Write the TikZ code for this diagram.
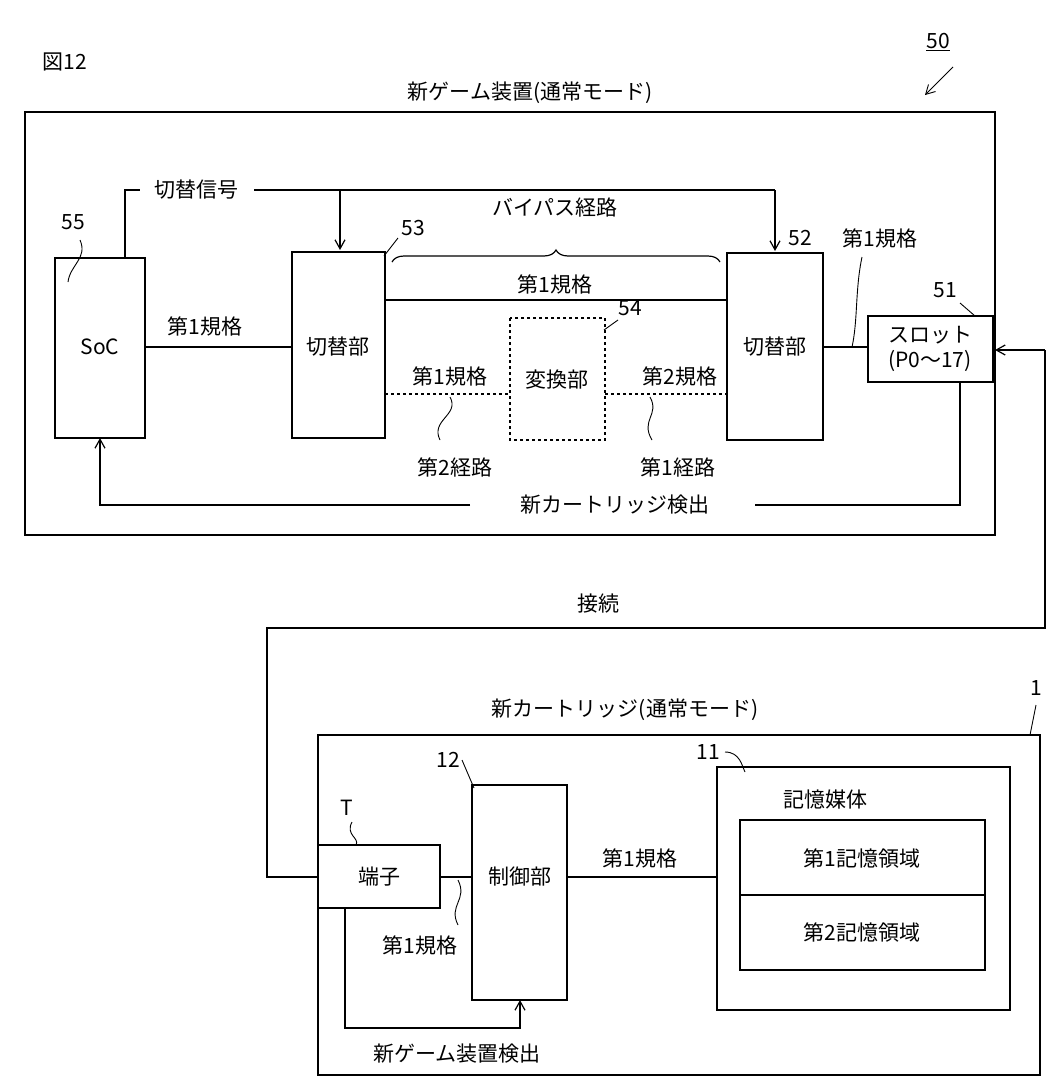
\documentclass[tikz,border=0pt]{standalone}
\usepackage{fontspec}
\setmainfont{Noto Sans CJK JP}
\usetikzlibrary{decorations.pathreplacing,arrows.meta}
\begin{document}
\begin{tikzpicture}[x=1pt,y=-1pt,line width=1.2pt,
  font=\fontsize{21}{25}\selectfont,
  box/.style={draw,inner sep=0},
  lbl/.style={inner sep=1pt},
  arr/.style={-{Straight Barb[length=9pt,width=10pt]}},
  lead/.style={line width=0.9pt}]
\useasboundingbox (0,0) rectangle (1060,1090);
\node[lbl] (fig) at (65,62) {図12};
\node[lbl] (n50) at (938,42) {\underline{50}};
\draw[arr,lead] (953,67) -- (925,95);
\node[lbl] (t1) at (530,93) {新ゲーム装置(通常モード)};
\draw (25,112) rectangle (995,535);
% boxes
\draw (55,258) rectangle (145,438); \node (soc) at (100,347) {SoC};
\coordinate (socT) at (125,258); \coordinate (socB) at (100,438);
\draw (292,252) rectangle (385,438); \node (sw53) at (338,347) {切替部};
\draw (727,253) rectangle (823,440); \node (sw52) at (775,347) {切替部};
\draw (868,316) rectangle (993,382);
\node[align=center,lbl] (slot) at (930,349) {スロット\\(P0〜17)};
\draw[dashed] (510,318) rectangle (605,440); \node (conv) at (557,380) {変換部};
% numbers
\node[lbl] (n55) at (73,222) {55}; \draw[lead] (80,240) .. controls (88,258) and (70,265) .. (68,282);
\node[lbl] (n53) at (413,228) {53}; \draw[lead] (398,238) -- (384,256);
\node[lbl] (n52) at (800,238) {52};
\node[lbl] (n51) at (945,290) {51}; \draw[lead] (960,303) -- (975,316);
\node[lbl] (n54) at (630,308) {54}; \draw[lead] (618,320) -- (604,330);
% lines
\draw (145,347) -- (292,347); \node[lbl] (a1) at (205,326) {第1規格};
\draw (385,300) -- (727,300); \node[lbl] (a2) at (555,284) {第1規格};
\draw[decorate,decoration={brace,amplitude=12pt}] (392,262) -- (720,262);
\node[lbl] (bp) at (555,208) {バイパス経路};
\draw[dashed] (385,394) -- (510,394); \draw[dashed] (605,394) -- (727,394);
\node[lbl] (a3) at (450,376) {第1規格}; \node[lbl] (a4) at (680,376) {第2規格};
\draw[lead] (450,397) .. controls (460,415) and (430,420) .. (440,440);
\node[lbl] (p2) at (455,467) {第2経路};
\draw[lead] (650,397) .. controls (660,415) and (640,420) .. (652,440);
\node[lbl] (p1) at (678,467) {第1経路};
\draw (823,347) -- (868,347);
\node[lbl] (a5) at (880,238) {第1規格};
\draw[lead] (862,257) .. controls (855,290) and (858,320) .. (852,347);
% switching signal
\draw (socT) -- (125,190) -- (140,190);
\node[lbl] (sig) at (196,190) {切替信号};
\draw (254,190) -- (775,190);
\draw[arr] (340,190) -- (340,250);
\draw[arr] (775,190) -- (775,251);
% detection
\draw (960,382) -- (960,505) -- (755,505);
\node[lbl] (det) at (615,505) {新カートリッジ検出};
\draw[arr] (470,505) -- (100,505) -- (socB);
% connection
\draw[arr] (1045,350) -- (995,350);
\draw (1045,350) -- (1045,628) -- (267,628) -- (267,877) -- (318,877);
\node[lbl] (conn) at (598,604) {接続};
% cartridge
\node[lbl] (t2) at (625,710) {新カートリッジ(通常モード)};
\draw (318,735) rectangle (1040,1075);
\node[lbl] (n1) at (1036,688) {1}; \draw[lead] (1036,705) -- (1030,735);
\draw (318,845) rectangle (440,908); \node (term) at (379,877) {端子};
\node[lbl] (nT) at (347,808) {T}; \draw[lead] (352,822) .. controls (345,835) and (360,838) .. (356,845);
\draw (472,785) rectangle (567,1000); \node (ctl) at (520,877) {制御部};
\node[lbl] (n12) at (448,760) {12}; \draw[lead] (462,760) -- (474,788);
\draw (440,877) -- (472,877);
\node[lbl] (a6) at (420,945) {第1規格};
\draw[lead] (458,880) .. controls (468,900) and (448,905) .. (458,925);
\draw (567,877) -- (717,877); \node[lbl] (a7) at (640,858) {第1規格};
\draw (717,767) rectangle (1010,1010); \node[lbl] (mem) at (825,800) {記憶媒体};
\node[lbl] (n11) at (708,752) {11}; \draw[lead] (725,752) .. controls (740,752) and (742,766) .. (745,772);
\draw (740,820) rectangle (985,970); \draw (740,895) -- (985,895);
\node (r1) at (862,858) {第1記憶領域};
\node (r2) at (862,932) {第2記憶領域};
\draw[arr] (345,908) -- (345,1028) -- (520,1028) -- (520,1000);
\node[lbl] (gd) at (457,1054) {新ゲーム装置検出};
\end{tikzpicture}
\end{document}
